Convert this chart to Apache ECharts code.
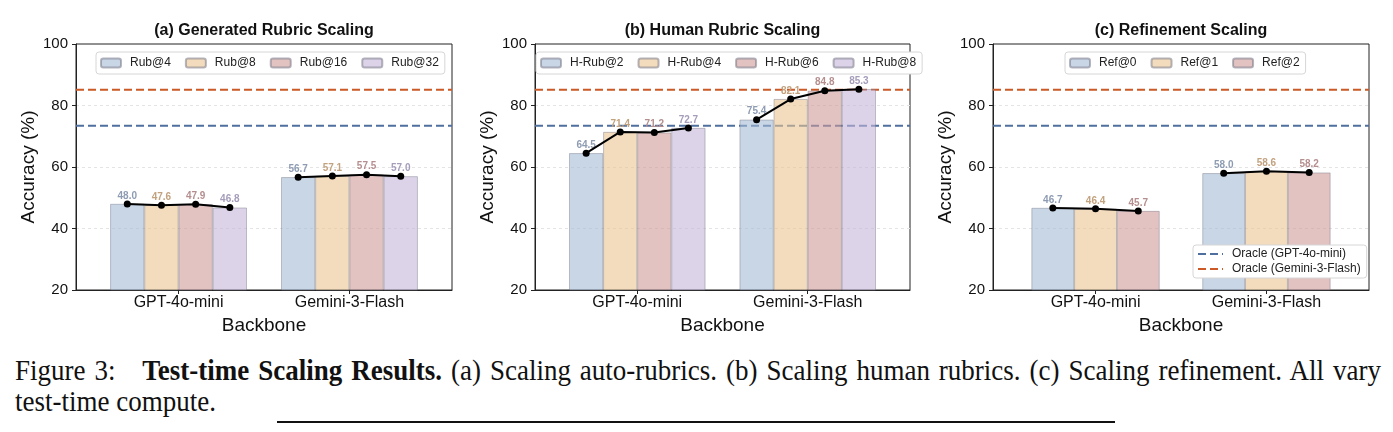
<!DOCTYPE html>
<html>
<head>
<meta charset="utf-8">
<script src="https://cdn.jsdelivr.net/npm/echarts@6/dist/echarts.min.js"></script>
<style>
  html, body { margin: 0; padding: 0; background: #fff; }
  #main { position: absolute; left: 0; top: 0; width: 1393px; height: 345px; }
  #cap { position: absolute; left: 15px; top: 356px; width: 1366px;
         font-family: "Liberation Serif", "Times New Roman", serif;
         font-size: 27px; line-height: 28.5px; color: #111;
         transform: scaleY(1.06); transform-origin: 0 0; }
  .l1 { text-align: justify; text-align-last: justify; }
  #rule { position: absolute; left: 277px; top: 421px; width: 838px; height: 2px; background: #111; }
</style>
</head>
<body>
<div id="main"></div>
<div id="cap">
  <div class="l1">Figure 3:&nbsp;&nbsp; <b>Test-time Scaling Results.</b> (a) Scaling auto-rubrics. (b) Scaling human rubrics. (c) Scaling refinement. All vary</div>
  <div>test-time compute.</div>
</div>
<div id="rule"></div>
<script>
// data
const backbones = ['GPT-4o-mini', 'Gemini-3-Flash'];

const rubNames = ['Rub@4', 'Rub@8', 'Rub@16', 'Rub@32'];
const rubGpt = [48.0, 47.6, 47.9, 46.8];
const rubGemini = [56.7, 57.1, 57.5, 57.0];

const hrubNames = ['H-Rub@2', 'H-Rub@4', 'H-Rub@6', 'H-Rub@8'];
const hrubGpt = [64.5, 71.4, 71.2, 72.7];
const hrubGemini = [75.4, 82.1, 84.8, 85.3];

const refNames = ['Ref@0', 'Ref@1', 'Ref@2'];
const refGpt = [46.7, 46.4, 45.7];
const refGemini = [58.0, 58.6, 58.2];

const oracleNames = ['Oracle (GPT-4o-mini)', 'Oracle (Gemini-3-Flash)'];
const oracleValues = [73.4, 85.1];

const yMin = 20, yMax = 100, yStep = 20;
const xMin = -0.6, xMax = 1.6;

// styles
const FONT = '"Liberation Sans", Arial, sans-serif';
const fills = ['rgba(163,187,213,0.6)', 'rgba(233,197,145,0.6)', 'rgba(207,155,153,0.6)', 'rgba(197,182,217,0.6)'];
const labelColors = ['#8e9cb3', '#c2a27f', '#b58f8f', '#a59dba'];
const oracleColors = ['#4f6f9f', '#cc5a27'];

const panels = [
  { title: '(a) Generated Rubric Scaling', left: 76, width: 376, names: rubNames, gpt: rubGpt, gem: rubGemini, barW: 0.2, legendLeft: 96 },
  { title: '(b) Human Rubric Scaling', left: 535, width: 375, names: hrubNames, gpt: hrubGpt, gem: hrubGemini, barW: 0.2, legendLeft: 536 },
  { title: '(c) Refinement Scaling', left: 993, width: 376, names: refNames, gpt: refGpt, gem: refGemini, barW: 0.25, legendLeft: 1065 }
];

const chart = echarts.init(document.getElementById('main'), null, { renderer: 'canvas' });

const grid = [], xAxis = [], yAxis = [], series = [], legend = [], graphic = [];

panels.forEach((p, i) => {
  grid.push({ left: p.left, top: 44, width: p.width, height: 246, show: true,
              borderColor: '#222', borderWidth: 1, backgroundColor: 'transparent' });
  xAxis.push({
    gridIndex: i, type: 'value', min: xMin, max: xMax,
    axisLine: { onZero: false, lineStyle: { color: '#222', width: 1 } },
    splitLine: { show: false },
    axisTick: { customValues: [0, 1], length: 4, lineStyle: { color: '#222' } },
    axisLabel: { customValues: [0, 1], formatter: v => backbones[Math.round(v)],
                 fontSize: 16, color: '#111', margin: 5, fontFamily: FONT },
    name: 'Backbone', nameLocation: 'middle', nameGap: 22,
    nameTextStyle: { fontSize: 19, color: '#111', fontFamily: FONT }
  });
  yAxis.push({
    gridIndex: i, type: 'value', min: yMin, max: yMax, interval: yStep,
    axisLine: { show: true, onZero: false, lineStyle: { color: '#222', width: 1 } },
    axisTick: { show: true, length: 4, lineStyle: { color: '#222' } },
    axisLabel: { fontSize: 15, color: '#111', margin: 8, fontFamily: FONT },
    splitLine: { show: true, showMinLine: false, showMaxLine: false,
                 lineStyle: { color: '#e4e4e4', type: [3, 3], width: 1 } },
    name: 'Accuracy (%)', nameLocation: 'middle', nameGap: 38, nameRotate: 90,
    nameTextStyle: { fontSize: 19, color: '#111', fontFamily: FONT }
  });

  oracleValues.forEach((v, k) => {
    series.push({
      type: 'line', name: oracleNames[k], xAxisIndex: i, yAxisIndex: i,
      data: [[xMin, v], [xMax, v]], symbol: 'none', silent: true, z: 1,
      lineStyle: { color: oracleColors[k], width: 2, type: [8, 4] },
      itemStyle: { color: oracleColors[k] }
    });
  });

  const n = p.names.length;
  p.names.forEach((name, j) => {
    series.push({
      type: 'bar', name: name, xAxisIndex: i, yAxisIndex: i,
      data: [[0, p.gpt[j]], [1, p.gem[j]]],
      barWidth: (p.barW * 100) + '%', barGap: '0%', z: 3,
      itemStyle: { color: fills[j], borderColor: 'rgba(110,110,125,0.5)', borderWidth: 0.8 },
      label: { show: true, position: 'top', distance: 3, fontSize: 10, fontWeight: 'bold',
               color: labelColors[j], fontFamily: FONT, formatter: d => d.value[1].toFixed(1) }
    });
  });

  [p.gpt, p.gem].forEach((vals, c) => {
    series.push({
      type: 'line', xAxisIndex: i, yAxisIndex: i, z: 5, silent: true,
      data: vals.map((v, j) => [c + (j - (n - 1) / 2) * p.barW, v]),
      symbol: 'circle', symbolSize: 7,
      itemStyle: { color: '#000' }, lineStyle: { color: '#000', width: 2 }
    });
  });

  legend.push({
    data: p.names, left: p.legendLeft, top: 52, itemWidth: 20, itemHeight: 9, itemGap: 14,
    padding: [5, 6, 5, 4], backgroundColor: '#fff', borderColor: '#d6d6d6', borderWidth: 1,
    borderRadius: 3, selectedMode: false,
    textStyle: { fontSize: 12, color: '#222', fontFamily: FONT, padding: [0, 0, 0, 4] }
  });

  graphic.push({
    type: 'text', x: p.left + p.width / 2, y: 31,
    style: { text: p.title, fontSize: 16, fontWeight: 'bold', fontFamily: FONT,
             fill: '#111', align: 'center', verticalAlign: 'middle' }
  });
});

legend.push({
  data: oracleNames, orient: 'vertical', left: 1193, top: 245, itemWidth: 25, itemHeight: 10, itemGap: 3,
  padding: [3, 6, 3, 4], backgroundColor: '#fff', borderColor: '#d6d6d6', borderWidth: 1,
  borderRadius: 3, selectedMode: false,
  itemStyle: { opacity: 0 },
  lineStyle: { width: 2 },
  textStyle: { fontSize: 12, color: '#222', fontFamily: FONT, padding: [0, 0, 0, 4] }
});

chart.setOption({
  animation: false,
  textStyle: { fontFamily: FONT },
  grid, xAxis, yAxis, series, legend, graphic
});
</script>
</body>
</html>
